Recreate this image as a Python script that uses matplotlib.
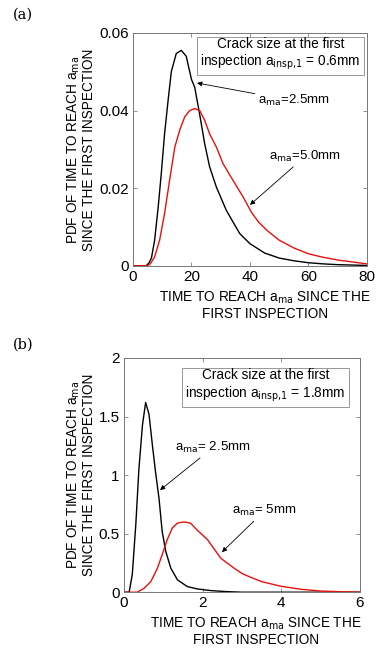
import matplotlib
matplotlib.use("Agg")
import matplotlib.pyplot as plt

# panel (a): inspection crack size 0.6 mm
a_x_25 = [0, 4.5, 5.5, 6.3, 7.4, 8.6, 9.7, 10.8, 12, 13.1, 14.8, 16.5, 18.2, 20, 21.1,
          22.8, 24.5, 26.2, 28.5, 31.9, 36.5, 40, 45, 50, 55, 60, 65, 70, 75, 80]
a_y_25 = [0, 0, 0.0008, 0.002, 0.0066, 0.015, 0.024, 0.034, 0.0426, 0.050, 0.0547,
          0.0555, 0.054, 0.048, 0.046, 0.039, 0.0315, 0.0255, 0.0203, 0.0143, 0.0083,
          0.0057, 0.0033, 0.002, 0.0013, 0.0008, 0.0005, 0.0003, 0.0002, 0.0001]
a_x_50 = [0, 5, 6, 7.4, 9.1, 10.8, 12.5, 14.3, 16, 17.7, 19.4, 21.1, 22.8, 24.5, 26.2,
          28.5, 30.8, 34.2, 37.6, 40.5, 43, 46, 50, 55, 60, 65, 70, 75, 80]
a_y_50 = [0, 0, 0.0006, 0.0023, 0.0066, 0.0135, 0.022, 0.0306, 0.035, 0.0384, 0.040,
          0.0405, 0.040, 0.0375, 0.034, 0.0306, 0.0263, 0.022, 0.0178, 0.0138, 0.0112,
          0.009, 0.0066, 0.0046, 0.0031, 0.0022, 0.0015, 0.001, 0.0005]

# panel (b): inspection crack size 1.8 mm
b_x_25 = [0, 0.13, 0.21, 0.3, 0.38, 0.47, 0.55, 0.635, 0.72, 0.8, 0.89, 0.97, 1.06,
          1.19, 1.36, 1.61, 1.86, 2.2, 2.6, 3.0, 6.0]
b_y_25 = [0, 0, 0.15, 0.58, 1.06, 1.43, 1.62, 1.52, 1.26, 1.03, 0.80, 0.52, 0.35,
          0.205, 0.105, 0.048, 0.028, 0.014, 0.005, 0, 0]
b_x_50 = [0, 0.34, 0.51, 0.68, 0.85, 0.97, 1.1, 1.23, 1.36, 1.52, 1.69, 1.86, 2.12,
          2.46, 2.8, 3.0, 3.2, 3.5, 4.0, 4.5, 5.0, 5.5, 6.0]
b_y_50 = [0, 0, 0.034, 0.09, 0.205, 0.32, 0.45, 0.55, 0.59, 0.60, 0.59, 0.53, 0.45,
          0.29, 0.205, 0.16, 0.13, 0.09, 0.05, 0.025, 0.01, 0.004, 0]

plt.rcParams["font.family"] = ["Liberation Sans", "DejaVu Sans"]
FS = 9.8
RED = "#e8100c"

fig = plt.figure(figsize=(3.9, 6.58), dpi=100)
ax_a = fig.add_axes([0.341, 0.596, 0.600, 0.354])
ax_b = fig.add_axes([0.318, 0.100, 0.605, 0.356])

ylab = "PDF OF TIME TO REACH a$_{\\rm ma}$\nSINCE THE FIRST INSPECTION"
xlab = "TIME TO REACH a$_{\\rm ma}$ SINCE THE\nFIRST INSPECTION"
arrow = dict(arrowstyle="-|>", color="k", lw=0.6, mutation_scale=7, shrinkA=0, shrinkB=0)


def style(ax, xlim, ylim, xt, yt, ytl, xlab_x):
    ax.set_xlim(*xlim); ax.set_ylim(*ylim)
    ax.set_xticks(xt); ax.set_yticks(yt); ax.set_yticklabels(ytl)
    ax.tick_params(direction="in", top=True, right=True, labelsize=11,
                   length=3, width=0.5, color="#666", pad=3)
    for s in ax.spines.values():
        s.set_color("#777"); s.set_linewidth(0.7)
    ax.set_ylabel(ylab, fontsize=FS, labelpad=2, linespacing=1.0)
    ax.set_xlabel(xlab, fontsize=FS, labelpad=4, linespacing=1.05, x=xlab_x)


# (a)
ax_a.plot(a_x_25, a_y_25, color="k", lw=1.0)
ax_a.plot(a_x_50, a_y_50, color=RED, lw=1.0)
style(ax_a, (0, 80), (0, 0.06), [0, 20, 40, 60, 80], [0, 0.02, 0.04, 0.06],
      ["0", "0.02", "0.04", "0.06"], 0.565)
ax_a.text(0.63, 0.908, "Crack size at the first\ninspection a$_{\\rm insp{,}1}$ = 0.6mm",
          transform=ax_a.transAxes, ha="center", va="center", fontsize=FS,
          linespacing=1.15,
          bbox=dict(boxstyle="square,pad=0.25", fc="white", ec="#888", lw=0.6))
ax_a.annotate("a$_{\\rm ma}$=2.5mm", xy=(21.9, 0.0471), xytext=(42.6, 0.0425),
              fontsize=9.5, ha="left", va="center", arrowprops=arrow)
ax_a.annotate("a$_{\\rm ma}$=5.0mm", xy=(40, 0.0157), xytext=(46.5, 0.0262),
              fontsize=9.5, ha="left", va="bottom", arrowprops=arrow)
fig.text(0.033, 0.977, "(a)", fontsize=10.5, family="DejaVu Serif", va="center")

# (b)
ax_b.plot(b_x_25, b_y_25, color="k", lw=1.0)
ax_b.plot(b_x_50, b_y_50, color=RED, lw=1.0)
style(ax_b, (0, 6), (0, 2), [0, 2, 4, 6], [0, 0.5, 1, 1.5, 2],
      ["0", "0.5", "1", "1.5", "2"], 0.56)
ax_b.text(0.60, 0.88, "Crack size at the first\ninspection a$_{\\rm insp{,}1}$ = 1.8mm",
          transform=ax_b.transAxes, ha="center", va="center", fontsize=FS,
          linespacing=1.15,
          bbox=dict(boxstyle="square,pad=0.25", fc="white", ec="#888", lw=0.6))
ax_b.annotate("a$_{\\rm ma}$= 2.5mm", xy=(0.915, 0.872), xytext=(1.3, 1.17),
              fontsize=9.5, ha="left", va="bottom", arrowprops=arrow)
ax_b.annotate("a$_{\\rm ma}$= 5mm", xy=(2.49, 0.342), xytext=(2.75, 0.63),
              fontsize=9.5, ha="left", va="bottom", arrowprops=arrow)
fig.text(0.033, 0.476, "(b)", fontsize=10.5, family="DejaVu Serif", va="center")

fig.savefig("out.png", dpi=100)
